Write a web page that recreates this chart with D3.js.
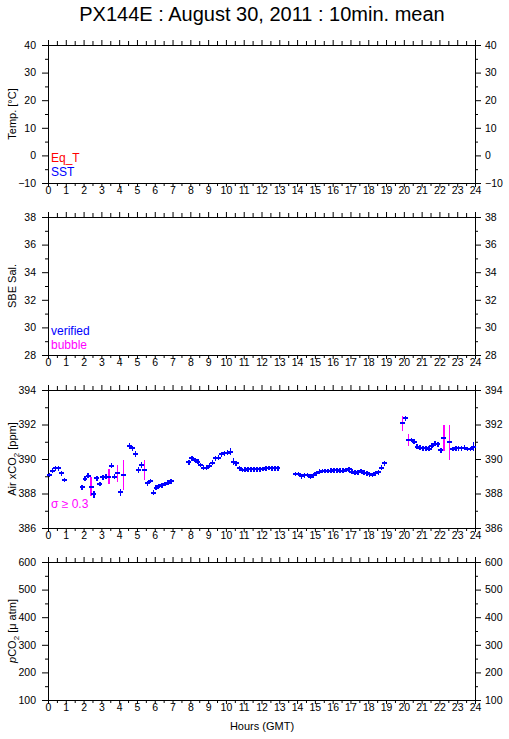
<!DOCTYPE html>
<html>
<head>
<meta charset="utf-8">
<script src="https://cdn.jsdelivr.net/npm/d3@7"></script>
<style>
  body { margin: 0; background: #fff; }
  text { font-family: "Liberation Sans", Arial, Helvetica, sans-serif; }
</style>
</head>
<body>
<svg id="chart" width="509" height="739"></svg>
<script>
const hourLabels = d3.range(0, 25);

const tempTicks = [-10, 0, 10, 20, 30, 40];
const salTicks = [28, 30, 32, 34, 36, 38];
const xco2Ticks = [386, 388, 390, 392, 394];
const pco2Ticks = [100, 200, 300, 400, 500, 600];

// 10 min means of atmospheric xCO2 (hour of day, ppm, std dev)
const sampleHours = [
  0.08, 0.25, 0.42, 0.58, 0.75, 0.92,
  1.92, 2.08, 2.25, 2.42, 2.58, 2.75, 2.92, 3.08, 3.25, 3.42, 3.58, 3.75, 3.92, 4.08, 4.25,
  4.58, 4.75, 4.92, 5.08, 5.25, 5.42, 5.58, 5.75, 5.92, 6.08, 6.25, 6.42, 6.58, 6.75, 6.92,
  7.92, 8.08, 8.25, 8.42, 8.58, 8.75, 8.92, 9.08, 9.25, 9.42, 9.58, 9.75, 9.92, 10.08, 10.25,
  10.42, 10.58, 10.75, 10.92, 11.08, 11.25, 11.42, 11.58, 11.75, 11.92, 12.08, 12.25, 12.42,
  12.58, 12.75, 12.92,
  13.92, 14.08, 14.25, 14.42, 14.58, 14.75, 14.92, 15.08, 15.25, 15.42, 15.58, 15.75, 15.92,
  16.08, 16.25, 16.42, 16.58, 16.75, 16.92, 17.08, 17.25, 17.42, 17.58, 17.75, 17.92, 18.08,
  18.25, 18.42, 18.58, 18.75, 18.92,
  19.92, 20.08, 20.25, 20.42, 20.58, 20.75, 20.92, 21.08, 21.25, 21.42, 21.58, 21.75, 21.92,
  22.08, 22.25, 22.58, 22.75, 22.92, 23.08, 23.25, 23.42, 23.58, 23.75, 23.92
];
const airXco2 = [
  389.07, 389.32, 389.46, 389.46, 389.17, 388.78,
  388.36, 388.86, 389.03, 388.40, 387.95, 388.87, 388.55, 388.94, 388.98, 388.98, 389.60, 388.98, 389.17, 388.07, 389.07,
  390.75, 390.62, 390.29, 389.36, 389.65, 389.36, 388.59, 388.72, 388.05, 388.34, 388.43, 388.48, 388.55, 388.63, 388.71,
  389.81, 390.04, 389.94, 389.84, 389.65, 389.50, 389.50, 389.60, 389.79, 390.04, 390.08, 390.27, 390.33, 390.37, 390.42,
  389.84, 389.75, 389.46, 389.36, 389.38, 389.40, 389.40, 389.40, 389.40, 389.40, 389.42, 389.45, 389.48,
  389.47, 389.45, 389.45,
  389.13, 389.13, 389.00, 389.05, 389.07, 388.98, 389.05, 389.17, 389.26, 389.30, 389.30, 389.30, 389.32,
  389.34, 389.34, 389.32, 389.32, 389.36, 389.40, 389.26, 389.20, 389.22, 389.30, 389.20, 389.17, 389.11,
  389.07, 389.17, 389.24, 389.50, 389.75,
  392.07, 392.36, 391.10, 391.10, 391.00, 390.71, 390.65, 390.62, 390.63, 390.60, 390.77, 390.89, 390.85,
  390.50, 391.20, 390.97, 390.58, 390.62, 390.63, 390.62, 390.65, 390.58, 390.58, 390.71
];
const airXco2Sd = [
  0.12, 0.08, 0.10, 0.10, 0.12, 0.14,
  0.14, 0.12, 0.08, 0.53, 0.20, 0.14, 0.14, 0.12, 0.16, 0.45, 0.10, 0.12, 0.50, 0.20, 0.86,
  0.15, 0.12, 0.20, 0.15, 0.18, 0.58, 0.14, 0.12, 0.10, 0.14, 0.06, 0.06, 0.06, 0.06, 0.06,
  0.04, 0.15, 0.10, 0.10, 0.12, 0.06, 0.06, 0.08, 0.12, 0.08, 0.06, 0.15, 0.08, 0.10, 0.20,
  0.20, 0.08, 0.10, 0.06, 0.04, 0.04, 0.04, 0.04, 0.05, 0.04, 0.06, 0.05, 0.05,
  0.05, 0.05, 0.04,
  0.05, 0.06, 0.06, 0.10, 0.10, 0.06, 0.06, 0.08, 0.06, 0.05, 0.05, 0.05, 0.05,
  0.05, 0.05, 0.05, 0.05, 0.06, 0.05, 0.06, 0.05, 0.05, 0.10, 0.05, 0.05, 0.05,
  0.05, 0.06, 0.06, 0.12, 0.12,
  0.42, 0.05, 0.33, 0.06, 0.10, 0.06, 0.06, 0.06, 0.05, 0.06, 0.12, 0.06, 0.10,
  0.15, 0.75, 1.00, 0.05, 0.06, 0.05, 0.06, 0.06, 0.05, 0.05, 0.25
];

const sdLimit = 0.3;

const svg = d3.select('#chart');
const plotLeft = 48;
const plotRight = 475;
const panelHeight = 138;
const tickFont = 10.5;

const x = d3.scaleLinear().domain([0, 24]).range([plotLeft, plotRight]);
const halfHours = d3.range(0.5, 24, 1);

function minorOf(ticks) {
  const step = ticks[1] - ticks[0];
  return ticks.slice(0, -1).map(t => t + step / 2);
}

const panels = [
  { top: 45, ticks: tempTicks, title: 'Temp. [°C]' },
  { top: 217, ticks: salTicks, title: 'SBE Sal.' },
  { top: 390, ticks: xco2Ticks, title: 'xco2' },
  { top: 562, ticks: pco2Ticks, title: 'pco2' },
];

panels.forEach(p => {
  const y = d3.scaleLinear()
    .domain(d3.extent(p.ticks))
    .range([p.top + panelHeight, p.top]);
  p.y = y;
  const g = svg.append('g');
  const bottom = p.top + panelHeight;

  // minor ticks first, then majors
  g.append('g').attr('transform', `translate(0,${p.top})`)
    .call(d3.axisTop(x).tickValues(halfHours).tickSize(4).tickFormat(''));
  g.append('g').attr('transform', `translate(0,${p.top})`)
    .call(d3.axisTop(x).tickValues(hourLabels).tickSize(5).tickFormat(''));
  g.append('g').attr('transform', `translate(0,${bottom})`)
    .call(d3.axisBottom(x).tickValues(halfHours).tickSize(3).tickFormat(''));
  g.append('g').attr('transform', `translate(0,${bottom})`)
    .call(d3.axisBottom(x).tickValues(hourLabels).tickSize(4).tickPadding(0));

  g.append('g').attr('transform', `translate(${plotLeft},0)`)
    .call(d3.axisLeft(y).tickValues(minorOf(p.ticks)).tickSize(3).tickFormat(''));
  g.append('g').attr('transform', `translate(${plotLeft},0)`)
    .call(d3.axisLeft(y).tickValues(p.ticks).tickSize(6).tickPadding(6));
  g.append('g').attr('transform', `translate(${plotRight},0)`)
    .call(d3.axisRight(y).tickValues(minorOf(p.ticks)).tickSize(3).tickFormat(''));
  g.append('g').attr('transform', `translate(${plotRight},0)`)
    .call(d3.axisRight(y).tickValues(p.ticks).tickSize(6).tickPadding(4));

  g.selectAll('.tick text')
    .attr('font-size', tickFont)
    .attr('font-family', '"Liberation Sans", Arial, sans-serif')
    .attr('fill', '#000');
  g.selectAll('.tick line').attr('stroke', '#000');
  g.selectAll('.domain').attr('stroke', '#000');

  g.append('rect')
    .attr('x', plotLeft + 0.5).attr('y', p.top + 0.5)
    .attr('width', plotRight - plotLeft).attr('height', panelHeight)
    .attr('fill', 'none').attr('stroke', '#000');

  // axis title
  const t = svg.append('text')
    .attr('transform', `translate(16,${p.top + panelHeight / 2}) rotate(-90)`)
    .attr('text-anchor', 'middle')
    .attr('font-size', 11);
  if (p.title === 'xco2') {
    t.append('tspan').text('Air xCO');
    t.append('tspan').attr('font-size', 8).attr('dy', 3).text('2');
    t.append('tspan').attr('dy', -3).text(' [ppm]');
  } else if (p.title === 'pco2') {
    t.append('tspan').attr('font-style', 'italic').text('p');
    t.append('tspan').text('CO');
    t.append('tspan').attr('font-size', 8).attr('dy', 3).text('2');
    t.append('tspan').attr('dy', -3).text(' [μ atm]');
  } else {
    t.text(p.title);
  }
});

// legends
const legend = [
  { panel: 0, dy: 117, text: 'Eq_T', color: '#ff0000' },
  { panel: 0, dy: 131, text: 'SST', color: '#0000ff' },
  { panel: 1, dy: 118, text: 'verified', color: '#0000ff' },
  { panel: 1, dy: 132, text: 'bubble', color: '#ff00ff' },
  { panel: 2, dy: 118, text: 'σ ≥ 0.3', color: '#ff00ff' },
];
legend.forEach(l => {
  svg.append('text')
    .attr('x', 51).attr('y', panels[l.panel].top + l.dy)
    .attr('font-size', 12).attr('fill', l.color)
    .text(l.text);
});

// xCO2 means with std dev bars
const yx = panels[2].y;
const pts = sampleHours.map((h, i) => ({ h, v: airXco2[i], s: airXco2Sd[i] }));
const marks = svg.append('g').attr('shape-rendering', 'crispEdges');
marks.selectAll('line.sd').data(pts).join('line')
  .attr('class', 'sd')
  .attr('x1', d => x(d.h)).attr('x2', d => x(d.h))
  .attr('y1', d => yx(d.v - Math.max(d.s, 0.14)))
  .attr('y2', d => yx(d.v + Math.max(d.s, 0.14)))
  .attr('stroke', d => d.s >= sdLimit ? '#ff00ff' : '#0000ff')
  .attr('stroke-width', 1.5);
marks.selectAll('line.mean').data(pts).join('line')
  .attr('class', 'mean')
  .attr('x1', d => x(d.h - 0.14)).attr('x2', d => x(d.h + 0.14))
  .attr('y1', d => yx(d.v)).attr('y2', d => yx(d.v))
  .attr('stroke', '#0000ff')
  .attr('stroke-width', 2);

svg.append('text')
  .attr('x', 262).attr('y', 21)
  .attr('text-anchor', 'middle')
  .attr('font-size', 20)
  .text('PX144E : August 30, 2011 : 10min. mean');

svg.append('text')
  .attr('x', 262).attr('y', 730)
  .attr('text-anchor', 'middle')
  .attr('font-size', 11)
  .text('Hours (GMT)');
</script>
</body>
</html>
